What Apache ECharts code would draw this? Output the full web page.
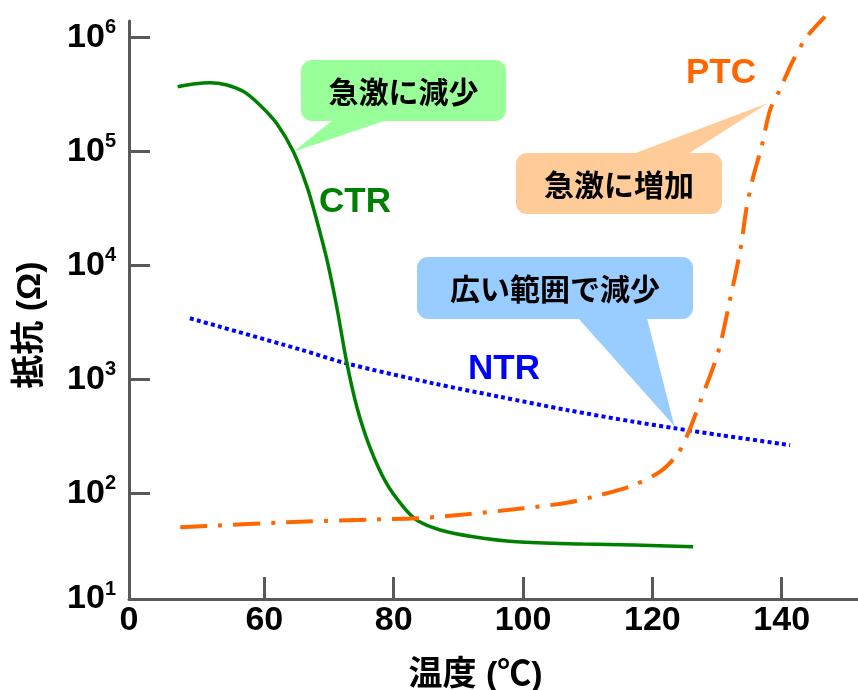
<!DOCTYPE html>
<html>
<head>
<meta charset="utf-8">
<script src="https://cdn.jsdelivr.net/npm/echarts@6/dist/echarts.min.js"></script>
<style>html,body{margin:0;padding:0;background:#fff}#c{width:858px;height:690px}</style>
</head>
<body>
<div id="c"></div>
<script>
// ---- data (temperature in °C, resistance in Ω) ----
const ctrTemp = [46.6, 49.0, 51.6, 54.2, 56.8, 59.3, 61.9, 64.5, 66.6, 68.1, 69.7, 71.2, 72.7, 74.3, 76.3, 78.9, 81.5, 83.6, 87.2, 92.3, 99.0, 109.3, 117.1, 126.3];
const ctrOhm  = [3.69e5, 3.89e5, 4.0e5, 3.82e5, 3.34e5, 2.55e5, 1.76e5, 9.9e4, 4.9e4, 2.5e4, 1.11e4, 4330, 1450, 575, 256, 122, 76, 58, 47.7, 41.6, 37.6, 35.9, 35.2, 34.0];

const ntrTemp = [48.5, 65.5, 72.7, 86.1, 96.4, 106.8, 117.1, 123.5, 130.5, 141.3];
const ntrOhm  = [3430, 1830, 1380, 922, 703, 538, 425, 372, 324, 265];

const ptcTemp = [47.0, 65.5, 77.4, 83.6, 91.3, 99.0, 106.8, 111.9, 117.1, 121.2, 123.8, 125.3, 127.4, 130.2, 132.0, 133.6, 134.6, 135.6, 136.9, 138.2, 139.7, 141.8, 143.9, 146.7];
const ptcOhm  = [50.4, 56.3, 59.1, 60.4, 65.5, 72.8, 82.7, 96.6, 118, 155, 217, 313, 637, 1750, 4970, 13600, 32700, 59800, 110000, 230000, 345000, 632000, 1.01e6, 1.52e6];

const xTicks = [60, 80, 100, 120, 140];
const yTicks = [1e2, 1e3, 1e4, 1e5, 1e6];
const X_START = 39.08;   // broken axis origin, labelled "0"
const X_END = 151.8;
const Y_START = 11.83;   // bottom of axis, labelled 10^1
const Y_END = 1.39e6;

const seriesNames = ['CTR', 'NTR', 'PTC'];
const calloutTexts = ['急激に減少', '急激に増加', '広い範囲で減少'];
const calloutAnchors = [[64.5, 9.9e4], [137.9, 2.65e5], [123.4, 389]];

const xName = '温度 (℃)';
const yName = '抵抗 (Ω)';

const FONT = "'Liberation Sans', 'Noto Sans CJK JP', sans-serif";
const AXIS_COLOR = '#595959';

const zip = (a, b) => a.map((v, i) => [v, b[i]]);

const chart = echarts.init(document.getElementById('c'), null, {renderer: 'canvas'});

const option = {
  animation: false,
  backgroundColor: '#ffffff',
  grid: {left: 129, right: 0, top: 21, bottom: 91, containLabel: false, outerBoundsMode: 'none'},
  xAxis: {
    type: 'value', min: X_START, max: X_END,
    axisLine: {onZero: false, lineStyle: {color: AXIS_COLOR, width: 3}},
    axisTick: {inside: true, length: 22, customValues: xTicks, lineStyle: {color: AXIS_COLOR, width: 3}},
    axisLabel: {
      customValues: [X_START].concat(xTicks),
      formatter: v => (v < 50 ? '0' : String(Math.round(v))),
      fontSize: 34, fontWeight: 'bold', fontFamily: FONT, color: '#000', margin: 4, lineHeight: 36
    },
    splitLine: {show: false},
    name: xName, nameLocation: 'middle', nameGap: 60,
    nameTextStyle: {fontSize: 34, fontWeight: 'bold', fontFamily: FONT, color: '#000', padding: [0, 36, 0, 0]}
  },
  yAxis: {
    type: 'log', logBase: 10, min: Y_START, max: Y_END,
    axisLine: {onZero: false, lineStyle: {color: AXIS_COLOR, width: 3}},
    axisTick: {inside: true, length: 21, customValues: yTicks, lineStyle: {color: AXIS_COLOR, width: 3}},
    axisLabel: {
      customValues: [Y_START].concat(yTicks),
      formatter: v => '{b|10}{s|' + Math.round(Math.log10(v)) + '}',
      margin: 13,
      rich: {
        b: {fontSize: 34, fontWeight: 'bold', fontFamily: FONT, color: '#000', lineHeight: 40},
        s: {fontSize: 20, fontWeight: 'bold', fontFamily: FONT, color: '#000', lineHeight: 22, verticalAlign: 'top'}
      }
    },
    splitLine: {show: false},
    minorTick: {show: false},
    name: yName, nameLocation: 'middle', nameGap: 81, nameRotate: 90,
    nameTextStyle: {fontSize: 34, fontWeight: 'bold', fontFamily: FONT, color: '#000', padding: [0, 30, 0, 0]}
  },
  series: [
    {name: seriesNames[0], type: 'line', data: zip(ctrTemp, ctrOhm), symbol: 'none', smooth: 0.3, z: 4,
     lineStyle: {color: '#008000', width: 3.5}},
    {name: seriesNames[1], type: 'line', data: zip(ntrTemp, ntrOhm), symbol: 'none', smooth: 0.3, z: 3,
     lineStyle: {color: '#0000ff', width: 4, type: [4, 3.3], cap: 'butt'}},
    {name: seriesNames[2], type: 'line', data: zip(ptcTemp, ptcOhm), symbol: 'none', smooth: 0.3, z: 5, clip: false,
     lineStyle: {color: '#ff6600', width: 4, type: [27, 11, 4, 11], cap: 'butt'}}
  ]
};
chart.setOption(option);

// ---- annotations ----
const bubbleLayout = [
  {fill: '#99ff99', rect: [301, 60, 205, 61], base: [333, 387], side: 'bottom', series: 0},
  {fill: '#ffcc99', rect: [516, 153, 206, 61], base: [633, 688], side: 'top', series: 2},
  {fill: '#99ccff', rect: [417, 257, 276, 62], base: [578, 647], side: 'bottom', series: 1}
];
const labelLayout = [
  {text: seriesNames[0], color: '#008000', x: 355, y: 202},
  {text: seriesNames[1], color: '#0000ff', x: 504, y: 369},
  {text: seriesNames[2], color: '#ff6600', x: 721, y: 73}
];

const elements = [];
bubbleLayout.forEach((b, i) => {
  const tip = chart.convertToPixel({seriesIndex: b.series}, calloutAnchors[i]);
  const [x, y, w, h] = b.rect;
  const by = b.side === 'bottom' ? y + h - 1 : y + 1;
  elements.push({type: 'polygon', z: 1, shape: {points: [[b.base[0], by], [b.base[1], by], tip]}, style: {fill: b.fill}});
  elements.push({type: 'rect', z: 1, shape: {x: x, y: y, width: w, height: h, r: 11}, style: {fill: b.fill}});
  elements.push({type: 'text', z: 10, style: {
    text: calloutTexts[i], x: x + w / 2, y: y + h / 2 + 1,
    textAlign: 'center', textVerticalAlign: 'middle', align: 'center', verticalAlign: 'middle',
    font: "bold 30px 'Noto Sans CJK JP', sans-serif", fill: '#000'}});
});
labelLayout.forEach(l => {
  elements.push({type: 'text', z: 10, style: {
    text: l.text, x: l.x, y: l.y,
    textAlign: 'center', textVerticalAlign: 'middle', align: 'center', verticalAlign: 'middle',
    font: "bold 35px 'Liberation Sans', sans-serif", fill: l.color}});
});
chart.setOption({graphic: {elements: elements}});
</script>
</body>
</html>
